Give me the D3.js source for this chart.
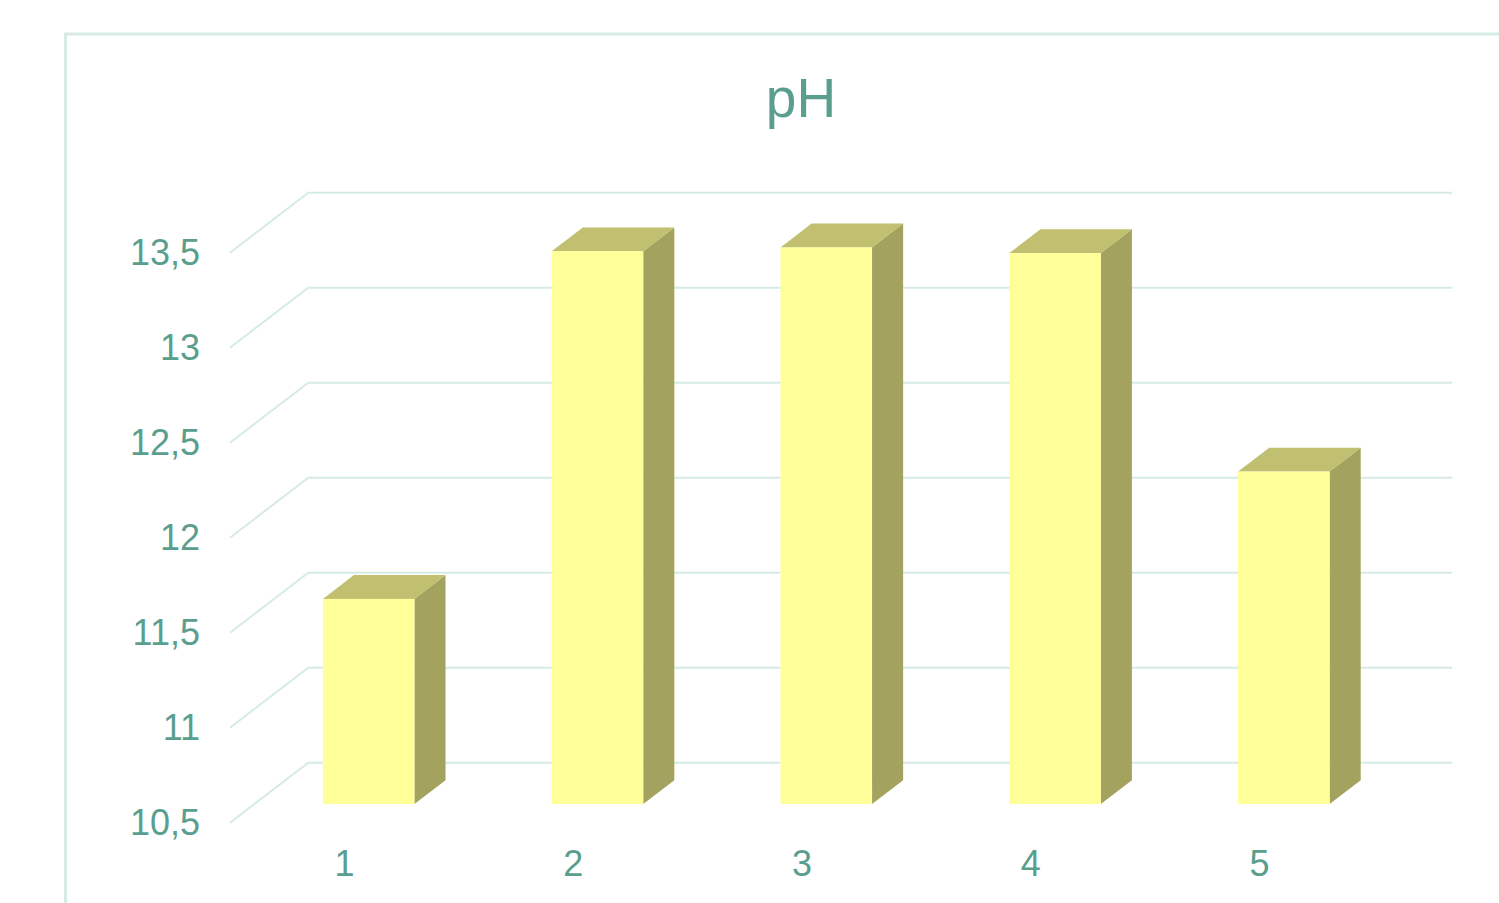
<!DOCTYPE html>
<html>
<head>
<meta charset="utf-8">
<script src="https://cdn.jsdelivr.net/npm/d3@7"></script>
<style>
  html, body { margin: 0; padding: 0; background: #fff; }
  svg { display: block; font-family: "Liberation Sans", Arial, sans-serif; }
</style>
</head>
<body>
<div id="chart"></div>
<script>
const categories = [`1`, `2`, `3`, `4`, `5`];
const phValues = [11.58, 13.41, 13.43, 13.40, 12.25];
const yTicks = [10.5, 11, 11.5, 12, 12.5, 13, 13.5];
const chartTitle = `pH`;

const width = 1499;
const height = 903;
const colors = {
  text: `#5a9e8e`,
  grid: `#d6ebe6`,
  front: `#ffff99`,
  top: `#c0c070`,
  side: `#a3a35f`,
};

// front plane of the 3d box, depth goes up-right
const plot = {left: 230, right: 1374, depthX: 78.3, depthY: -60};
const barDepth = {from: 0.31, to: 0.707};

const x = d3.scaleBand()
  .domain(categories)
  .range([plot.left, plot.right])
  .paddingInner(0.6)
  .paddingOuter(0.3);

const y = d3.scaleLinear()
  .domain([10.5, 13.5])
  .range([822.7, 252.7]);

const fmt = v => String(v).replace(`.`, `,`);

const svg = d3.select(`#chart`)
  .append(`svg`)
    .attr(`width`, width)
    .attr(`height`, height);

// outer chart border (cut by the window)
svg.append(`rect`)
  .attr(`x`, 65.5)
  .attr(`y`, 34)
  .attr(`width`, 1600)
  .attr(`height`, 1000)
  .attr(`fill`, `none`)
  .attr(`stroke`, colors.grid)
  .attr(`stroke-width`, 3);

svg.append(`text`)
  .attr(`x`, 801)
  .attr(`y`, 117)
  .attr(`text-anchor`, `middle`)
  .attr(`font-size`, 55)
  .attr(`fill`, colors.text)
  .text(chartTitle);

// gridlines: diagonal on the side wall, then flat on the back wall
svg.append(`g`)
  .selectAll(`path`)
  .data(yTicks)
  .enter().append(`path`)
    .attr(`fill`, `none`)
    .attr(`stroke`, colors.grid)
    .attr(`stroke-width`, 2)
    .attr(`d`, d => {
      const y0 = y(d);
      return `M${plot.left},${y0}L${plot.left + plot.depthX},${y0 + plot.depthY}H${plot.right + plot.depthX}`;
    });

svg.append(`g`)
  .selectAll(`text`)
  .data(yTicks)
  .enter().append(`text`)
    .attr(`x`, 200)
    .attr(`y`, d => y(d))
    .attr(`dy`, `0.35em`)
    .attr(`text-anchor`, `end`)
    .attr(`font-size`, 36)
    .attr(`fill`, colors.text)
    .text(fmt);

svg.append(`g`)
  .selectAll(`text`)
  .data(categories)
  .enter().append(`text`)
    .attr(`x`, d => x(d) + x.bandwidth() / 2)
    .attr(`y`, 876)
    .attr(`text-anchor`, `middle`)
    .attr(`font-size`, 36)
    .attr(`fill`, colors.text)
    .text(d => d);

// 3d bars
const fx = barDepth.from * plot.depthX;
const fy = barDepth.from * plot.depthY;
const dx = (barDepth.to - barDepth.from) * plot.depthX;
const dy = (barDepth.to - barDepth.from) * plot.depthY;

const bars = svg.append(`g`)
  .selectAll(`g`)
  .data(categories.map((c, i) => ({cat: c, value: phValues[i]})))
  .enter().append(`g`);

bars.append(`path`)
  .attr(`fill`, colors.side)
  .attr(`d`, d => {
    const x1 = x(d.cat) + x.bandwidth() + fx;
    const yt = y(d.value) + fy;
    const yb = y(10.5) + fy;
    return `M${x1},${yt}L${x1 + dx},${yt + dy}L${x1 + dx},${yb + dy}L${x1},${yb}Z`;
  });

bars.append(`path`)
  .attr(`fill`, colors.top)
  .attr(`d`, d => {
    const x0 = x(d.cat) + fx;
    const x1 = x0 + x.bandwidth();
    const yt = y(d.value) + fy;
    return `M${x0},${yt}L${x0 + dx},${yt + dy}L${x1 + dx},${yt + dy}L${x1},${yt}Z`;
  });

bars.append(`rect`)
  .attr(`fill`, colors.front)
  .attr(`x`, d => x(d.cat) + fx)
  .attr(`y`, d => y(d.value) + fy)
  .attr(`width`, x.bandwidth())
  .attr(`height`, d => y(10.5) - y(d.value));
</script>
</body>
</html>
